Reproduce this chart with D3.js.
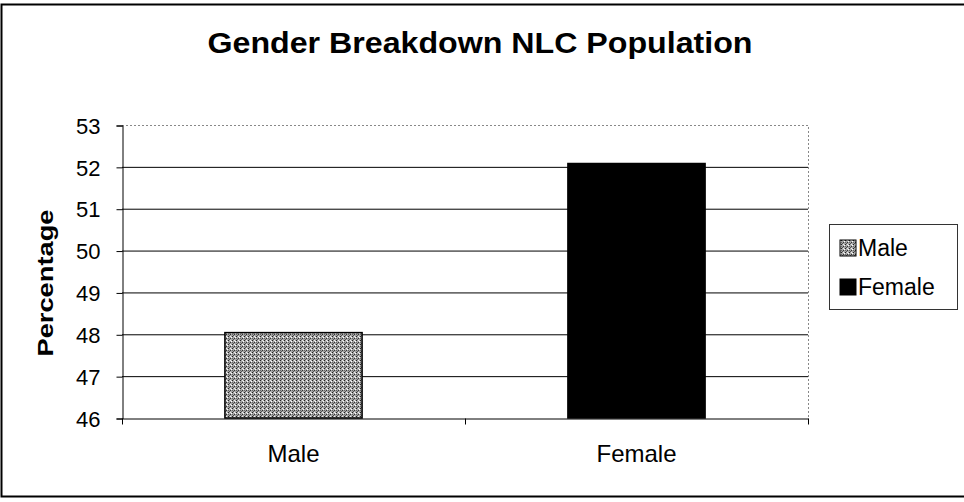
<!DOCTYPE html>
<meta charset="utf-8">
<head>
    <title>Gender Breakdown NLC Population</title>
    <style>
        body { margin: 0; background: #fff; }
        text { font-family: "Liberation Sans", Arial, sans-serif; fill: #000; }
    </style>
</head>
<body>
<script src="https://d3js.org/d3.v7.min.js"></script>
<svg id="chart" width="964" height="502"></svg>

<script>
    // chart data
    var categories = ["Male", "Female"];
    var percentages = [48.04, 52.08];
    var yTicks = [46, 47, 48, 49, 50, 51, 52, 53];
    var legendLabels = ["Male", "Female"];

    var svg = d3.select("#chart"),
        plotLeft = 122, plotRight = 808, plotTop = 125, plotBottom = 418;

    // stippled grey fill like the scanned original
    var defs = svg.append("defs");
    var pat = defs.append("pattern")
        .attr("id", "stipple")
        .attr("width", 4).attr("height", 4)
        .attr("patternUnits", "userSpaceOnUse");
    pat.append("rect").attr("width", 4).attr("height", 4).attr("fill", "#a6a6a6");
    [[0, 0, "#222"], [2, 2, "#333"], [1, 3, "#555"], [3, 1, "#fff"], [2, 0, "#eee"], [0, 2, "#666"]]
        .forEach(function (p) {
            pat.append("rect").attr("x", p[0]).attr("y", p[1])
                .attr("width", 1).attr("height", 1).attr("fill", p[2]);
        });
    var fills = ["url(#stipple)", "#000"];

    // outer frame
    svg.append("rect")
        .attr("x", 1.5).attr("y", 4.5)
        .attr("width", 970).attr("height", 492)
        .attr("fill", "none").attr("stroke", "#000").attr("stroke-width", 2);

    svg.append("text")
        .attr("x", 480).attr("y", 53)
        .attr("text-anchor", "middle")
        .attr("textLength", 545).attr("lengthAdjust", "spacingAndGlyphs")
        .style("font-size", "29px").style("font-weight", "bold")
        .text("Gender Breakdown NLC Population");

    var x = d3.scaleBand().domain(categories).range([plotLeft, plotRight]);
    var y = d3.scaleLinear().domain([46, 53]).range([plotBottom, plotTop]);

    // gridlines
    svg.append("g").selectAll("line")
        .data(yTicks.slice(1, -1))
        .join("line")
        .attr("x1", plotLeft).attr("x2", plotRight)
        .attr("y1", d => y(d) + 0.5).attr("y2", d => y(d) + 0.5)
        .attr("stroke", "#000").attr("stroke-width", 1);

    // plot area top/right dotted border
    svg.append("path")
        .attr("d", "M" + plotLeft + "," + (y(53) + 0.5) + "H" + (plotRight + 0.5) + "V" + plotBottom)
        .attr("fill", "none").attr("stroke", "#888")
        .attr("stroke-dasharray", "2,2");

    // bars
    var bw = x.bandwidth() * 0.4;
    svg.append("g").selectAll("rect")
        .data(percentages)
        .join("rect")
        .attr("x", (d, i) => x(categories[i]) + (x.bandwidth() - bw) / 2)
        .attr("y", d => y(d))
        .attr("width", bw)
        .attr("height", d => y(46) - y(d))
        .attr("fill", (d, i) => fills[i])
        .attr("stroke", "#000").attr("stroke-width", 1.5);

    // y axis
    var yAxis = svg.append("g")
        .attr("transform", "translate(" + (plotLeft + 0.5) + ",0.5)")
        .call(d3.axisLeft(y).tickValues(yTicks).tickFormat(d3.format("d"))
            .tickSize(6).tickPadding(16));
    yAxis.select(".domain").attr("stroke", "#000");
    yAxis.selectAll("text").style("font-size", "22px").attr("dy", "0.35em");

    // x axis
    var xAxis = svg.append("g")
        .attr("transform", "translate(0," + (plotBottom + 0.5) + ")")
        .call(d3.axisBottom(x).tickSize(0).tickPadding(26));
    xAxis.select(".domain").attr("stroke", "#000");
    xAxis.selectAll("text").style("font-size", "24px");
    xAxis.append("g").selectAll("line")
        .data([plotLeft, (plotLeft + plotRight) / 2, plotRight])
        .join("line")
        .attr("x1", d => d + 0.5).attr("x2", d => d + 0.5)
        .attr("y1", 0).attr("y2", 6)
        .attr("stroke", "#000");

    svg.append("text")
        .attr("transform", "translate(53," + 283 + ") rotate(-90)")
        .attr("text-anchor", "middle")
        .attr("textLength", 147).attr("lengthAdjust", "spacingAndGlyphs")
        .style("font-size", "22px").style("font-weight", "bold")
        .text("Percentage");

    // legend
    var lg = svg.append("g").attr("transform", "translate(829,224)");
    lg.append("rect")
        .attr("x", 0.5).attr("y", 0.5).attr("width", 128).attr("height", 85)
        .attr("fill", "#fff").attr("stroke", "#333");
    var items = lg.selectAll("g.item")
        .data(legendLabels)
        .join("g")
        .attr("class", "item")
        .attr("transform", (d, i) => "translate(0," + (i * 39) + ")");
    items.append("rect")
        .attr("x", 11).attr("y", 16).attr("width", 16).attr("height", 16)
        .attr("fill", (d, i) => fills[i]).attr("stroke", "#000");
    items.append("text")
        .attr("x", 29).attr("y", 32)
        .style("font-size", "23px")
        .text(d => d);
</script>
</body>
